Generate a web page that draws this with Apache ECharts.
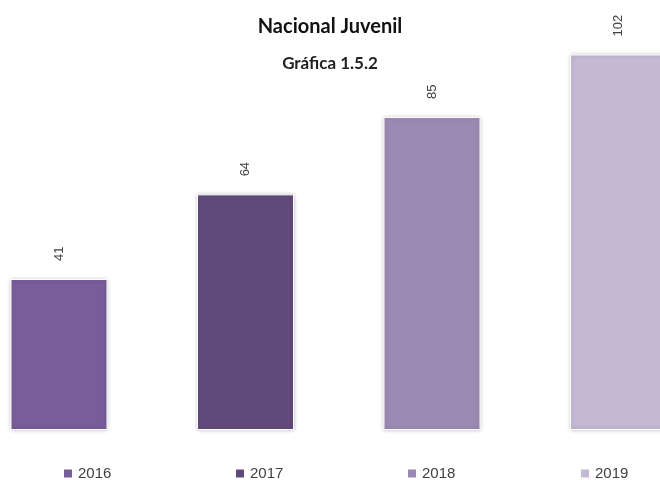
<!DOCTYPE html>
<html><head><meta charset="utf-8">
<script src="https://cdn.jsdelivr.net/npm/echarts@6/dist/echarts.min.js"></script>
<style>html,body{margin:0;padding:0;background:#fff}#c{width:660px;height:480px}</style>
</head><body><div id="c"></div>
<script>
const categories = ['2016', '2017', '2018', '2019'];
const values = [41, 64, 85, 102];
const colors = ['#775D99', '#604A7B', '#9B89B3', '#C3B9D2'];
const legendLeft = [62, 234, 406, 579];

const chart = echarts.init(document.getElementById('c'), null, {renderer: 'canvas'});
const series = categories.map((name, i) => ({
  name: name,
  type: 'bar',
  barWidth: 97,
  barGap: '-100%',
  data: [[i, values[i]]],
  itemStyle: {
    color: colors[i],
    borderColor: '#ffffff',
    borderWidth: 1,
    shadowBlur: 4,
    shadowColor: 'rgba(0,0,0,0.22)'
  },
  label: {
    show: true,
    position: 'top',
    rotate: 90,
    align: 'left',
    verticalAlign: 'middle',
    distance: 18,
    color: '#404040',
    fontFamily: 'Liberation Sans',
    fontSize: 13
  }
}));
const legends = categories.map((name, i) => ({
  data: [name],
  left: legendLeft[i],
  top: 466,
  itemWidth: 10,
  itemHeight: 10,
  icon: 'rect',
  padding: 0,
  textStyle: {color: '#404040', fontFamily: 'Liberation Sans', fontSize: 15}
}));
chart.setOption({
  animation: false,
  title: [
    {text: 'Nacional Juvenil', left: 'center', top: 12,
     textStyle: {fontFamily: 'Lato', fontWeight: 'bold', fontSize: 20, color: '#111'}},
    {text: 'Gráfica 1.5.2', left: 'center', top: 50,
     textStyle: {fontFamily: 'Lato', fontWeight: 'bold', fontSize: 17, color: '#222'}}
  ],
  legend: legends,
  grid: {left: 0, right: 0, top: 25, bottom: 50, containLabel: false},
  xAxis: {type: 'value', min: -0.3164, max: 3.2225, show: false},
  yAxis: {type: 'value', min: 0, max: 110, show: false},
  series: series
});
</script></body></html>
